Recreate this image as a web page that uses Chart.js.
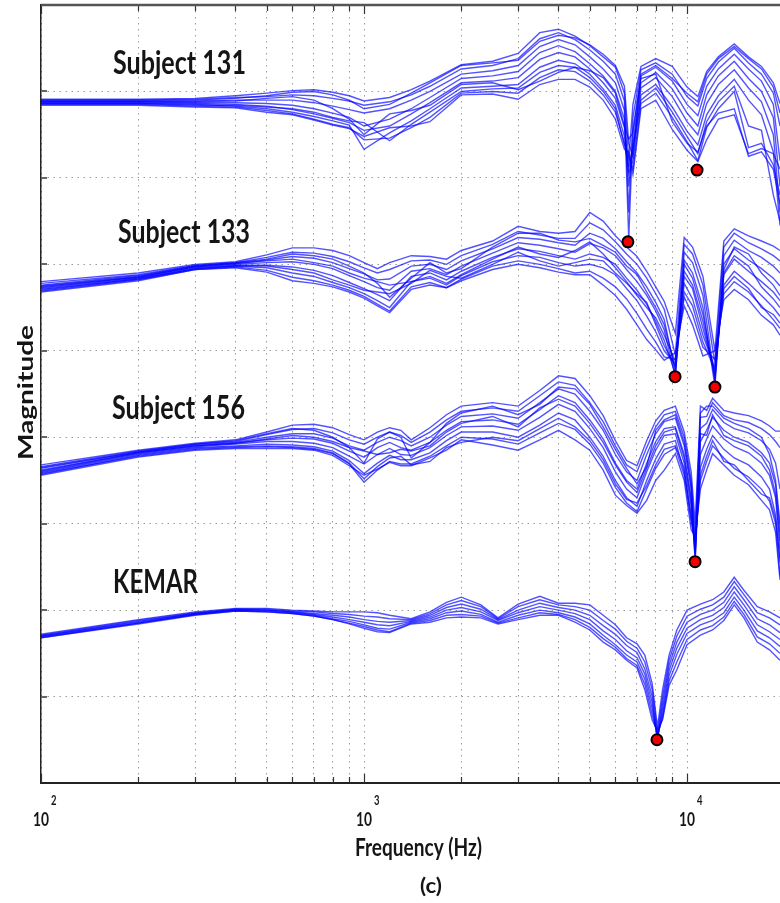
<!DOCTYPE html>
<html>
<head>
<meta charset="utf-8">
<script src="https://cdn.jsdelivr.net/npm/chart.js@4/dist/chart.umd.min.js"></script>
<style>
  html, body { margin: 0; padding: 0; background: #fff; }
  canvas { display: block; background: #fff; }
</style>
</head>
<body>
<canvas id="hrtf" width="780" height="903"></canvas>
<script>
// frequencies (Hz) for each subject's set of curves
const freq131 = [100, 200, 300, 400, 500, 600, 700, 800, 900, 1000, 1200, 1400, 1600, 2000, 2500, 3000, 3500, 4000, 4500, 5000, 5500, 6000, 6400, 6600, 6800, 7200, 8000, 9000, 10000, 10800, 11500, 12500, 14000, 15500, 17000, 18500, 19400];
const freq133 = [100, 200, 300, 400, 500, 600, 700, 800, 900, 1000, 1100, 1200, 1400, 1600, 1800, 2000, 2500, 3000, 3500, 4000, 4500, 5000, 5500, 6000, 6500, 7000, 7500, 8000, 8500, 9200, 9800, 10400, 11200, 12200, 13000, 14000, 15500, 17000, 18500, 19400];
const freq156 = [100, 200, 300, 400, 500, 600, 700, 800, 900, 1000, 1100, 1200, 1300, 1400, 1600, 1800, 2000, 2500, 3000, 3500, 4000, 4500, 5000, 5500, 6000, 6500, 7000, 7500, 8000, 8500, 9200, 9800, 10300, 10600, 11000, 11500, 12000, 13000, 14000, 15500, 17000, 18000, 18800, 19400];
const freqKemar = [100, 200, 300, 400, 500, 600, 700, 800, 900, 1000, 1100, 1200, 1400, 1600, 1800, 2000, 2300, 2600, 3000, 3500, 4000, 4500, 5000, 5500, 6000, 6500, 7000, 7400, 7800, 8100, 8400, 8800, 9300, 10000, 11000, 12000, 13000, 14000, 15000, 16500, 18000, 19400];

// magnitude (dB, stacked with offsets as in the figure), one row per elevation
const subject131 = [
  [79.1, 79.1, 79.2, 79.5, 79.8, 80.1, 80.2, 79.9, 79.5, 78.9, 79.3, 80.2, 81.2, 83.1, 83.5, 84.4, 86.8, 87.2, 86.4, 85.3, 84.0, 82.8, 79.8, 72.0, 78.5, 82.9, 83.8, 82.9, 80.5, 79.4, 82.3, 84.0, 85.5, 84.0, 82.9, 81.0, 78.6],
  [79.0, 79.0, 79.1, 79.3, 79.4, 79.6, 79.5, 79.2, 78.9, 78.4, 78.8, 79.6, 80.6, 82.6, 83.0, 83.8, 86.1, 86.8, 86.0, 84.8, 83.5, 82.0, 78.9, 66.0, 77.0, 82.5, 83.3, 82.0, 79.4, 78.3, 81.5, 83.4, 85.0, 83.3, 82.0, 79.8, 76.0],
  [78.9, 78.9, 78.9, 79.0, 79.0, 79.0, 78.7, 78.3, 77.9, 77.5, 78.0, 79.0, 80.0, 82.0, 82.4, 83.0, 85.2, 86.0, 85.4, 84.0, 82.6, 81.0, 77.8, 63.0, 75.5, 81.8, 82.8, 81.2, 78.5, 77.2, 80.6, 82.6, 84.3, 82.6, 81.2, 78.5, 72.0],
  [78.8, 78.8, 78.7, 78.7, 78.6, 78.4, 78.0, 77.5, 77.0, 76.0, 76.8, 78.0, 79.3, 81.5, 81.8, 82.3, 84.5, 85.3, 84.6, 83.2, 81.8, 80.0, 76.8, 69.0, 74.0, 81.0, 82.2, 80.3, 77.5, 76.0, 79.6, 81.8, 83.5, 81.5, 80.0, 77.0, 69.0],
  [78.7, 78.7, 78.6, 78.5, 78.3, 77.9, 77.4, 76.9, 76.4, 75.5, 76.0, 77.4, 78.7, 81.0, 81.2, 81.6, 83.7, 84.5, 84.0, 82.6, 81.0, 79.2, 75.8, 71.0, 73.0, 80.4, 81.6, 79.4, 76.5, 75.0, 78.6, 80.8, 82.5, 80.4, 78.8, 75.0, 66.0],
  [78.6, 78.6, 78.5, 78.3, 78.0, 77.6, 77.1, 76.6, 76.1, 73.3, 75.2, 76.6, 78.0, 80.4, 80.6, 80.8, 82.8, 83.6, 83.2, 82.0, 80.3, 78.4, 74.8, 70.5, 72.0, 79.6, 80.8, 78.2, 75.4, 73.8, 77.3, 79.5, 81.4, 79.0, 77.3, 73.0, 64.5],
  [78.5, 78.5, 78.3, 78.2, 77.8, 77.4, 76.8, 76.2, 75.8, 74.4, 74.6, 75.8, 77.0, 79.8, 80.0, 79.8, 81.6, 82.5, 82.3, 81.2, 79.6, 77.6, 74.0, 72.5, 71.0, 78.6, 79.8, 77.0, 74.2, 72.0, 75.8, 78.0, 80.0, 73.5, 74.0, 71.5, 68.0],
  [78.4, 78.4, 78.2, 78.1, 77.6, 77.3, 76.7, 76.1, 75.7, 74.8, 75.8, 76.0, 76.5, 79.6, 79.7, 79.1, 80.8, 81.4, 81.4, 80.5, 79.0, 76.8, 73.3, 73.0, 70.4, 78.0, 79.0, 75.6, 73.2, 71.9, 74.4, 76.8, 77.3, 72.8, 73.4, 72.8, 71.0],
  [78.8, 78.8, 78.8, 78.9, 79.2, 79.4, 79.0, 78.0, 76.8, 75.0, 77.4, 77.8, 78.4, 80.8, 81.0, 80.2, 81.2, 82.2, 82.8, 82.4, 81.6, 79.8, 76.0, 74.5, 75.2, 81.5, 82.0, 76.5, 74.0, 73.0, 76.0, 77.5, 78.0, 72.5, 73.0, 71.0, 67.0],
  [79.0, 79.0, 79.0, 79.2, 79.5, 79.9, 80.0, 79.6, 79.0, 78.0, 78.5, 79.8, 81.0, 83.0, 83.3, 83.6, 85.8, 86.5, 86.2, 85.4, 84.3, 83.0, 80.6, 74.0, 72.5, 82.0, 83.0, 81.5, 79.8, 78.8, 82.0, 83.8, 85.2, 83.8, 82.6, 80.5, 77.5],
  [78.6, 78.6, 78.4, 78.4, 78.2, 78.0, 77.6, 77.0, 76.6, 76.4, 74.3, 76.2, 77.6, 80.0, 80.3, 80.4, 82.2, 83.0, 82.8, 81.6, 80.0, 78.0, 73.8, 71.5, 73.5, 79.0, 80.4, 77.6, 74.8, 72.8, 76.5, 78.8, 80.6, 76.0, 75.5, 68.0, 65.0]
];
const subject133 = [
  [58.0, 59.0, 60.0, 60.3, 61.1, 61.9, 61.9, 61.6, 61.0, 60.2, 59.5, 60.2, 61.0, 60.9, 60.6, 61.6, 62.7, 64.4, 63.8, 63.6, 63.8, 66.0, 65.0, 63.3, 62.0, 60.9, 59.2, 57.4, 55.7, 52.0, 63.1, 62.0, 58.6, 50.0, 62.7, 64.1, 63.3, 62.7, 62.1, 61.6],
  [57.8, 58.8, 59.9, 60.2, 60.8, 61.4, 61.3, 60.9, 60.3, 59.6, 59.0, 59.4, 60.4, 60.5, 60.0, 61.0, 62.3, 63.8, 63.4, 63.0, 63.0, 64.8, 64.0, 62.6, 61.2, 60.0, 58.4, 56.6, 54.8, 49.5, 62.3, 61.2, 57.6, 48.5, 62.0, 63.6, 62.5, 61.8, 61.0, 60.4],
  [57.6, 58.7, 59.8, 60.1, 60.5, 60.9, 60.7, 60.2, 59.5, 58.9, 58.2, 58.3, 59.8, 60.0, 59.4, 60.4, 61.8, 63.1, 62.9, 62.5, 62.2, 63.6, 63.0, 61.8, 60.3, 59.0, 57.4, 55.6, 53.6, 47.5, 61.4, 60.2, 56.4, 46.5, 61.0, 62.8, 61.6, 60.8, 59.8, 59.0],
  [57.4, 58.5, 59.7, 60.0, 60.2, 60.3, 60.0, 59.5, 58.7, 58.0, 57.3, 57.0, 59.2, 59.5, 58.8, 59.8, 61.3, 62.5, 62.2, 61.8, 61.4, 62.4, 61.9, 61.0, 59.4, 58.0, 56.4, 54.6, 52.4, 47.0, 60.5, 59.0, 55.0, 45.9, 60.0, 61.8, 60.5, 59.5, 58.4, 57.5],
  [57.2, 58.4, 59.6, 59.9, 59.9, 59.7, 59.3, 58.7, 57.9, 57.2, 56.5, 55.8, 58.6, 59.0, 58.2, 59.2, 60.8, 61.8, 61.5, 61.0, 60.6, 61.2, 60.8, 60.0, 58.4, 57.0, 55.4, 53.4, 51.2, 47.3, 59.2, 57.6, 53.4, 47.0, 58.8, 60.6, 59.2, 58.0, 56.8, 55.8],
  [57.0, 58.3, 59.5, 59.8, 59.6, 59.0, 58.6, 57.9, 57.3, 56.6, 55.8, 55.0, 58.0, 58.4, 57.6, 58.7, 60.3, 61.0, 60.8, 60.2, 59.8, 60.0, 59.6, 58.8, 57.2, 55.8, 54.0, 52.2, 50.0, 48.5, 57.8, 56.0, 51.8, 48.0, 57.6, 59.2, 57.8, 56.4, 55.0, 54.0],
  [56.9, 58.2, 59.4, 59.7, 59.3, 58.5, 58.1, 57.6, 57.0, 56.3, 55.4, 54.6, 57.4, 57.9, 57.3, 58.3, 59.8, 60.4, 60.0, 59.5, 59.0, 59.2, 58.4, 57.4, 56.0, 54.3, 52.5, 51.0, 49.3, 49.0, 56.2, 54.2, 50.4, 49.0, 56.6, 58.0, 56.8, 55.2, 53.6, 52.6],
  [56.8, 58.1, 59.4, 59.6, 59.1, 58.1, 57.8, 57.4, 56.8, 56.1, 55.2, 54.4, 57.1, 57.6, 57.3, 58.1, 59.4, 60.0, 59.6, 59.1, 58.8, 58.8, 57.6, 56.4, 54.8, 53.0, 51.3, 50.1, 48.9, 49.8, 55.2, 53.0, 49.4, 50.0, 55.9, 57.1, 55.9, 54.1, 53.0, 51.8],
  [57.5, 58.6, 59.8, 60.2, 60.6, 61.2, 61.0, 60.6, 59.8, 59.0, 57.8, 56.2, 58.4, 60.2, 59.0, 59.5, 62.0, 63.6, 63.6, 62.8, 62.6, 63.0, 62.2, 61.4, 59.8, 58.8, 56.8, 55.0, 53.0, 48.0, 60.0, 58.4, 54.2, 46.8, 59.4, 62.0, 61.2, 59.0, 57.6, 56.4],
  [57.3, 58.5, 59.7, 60.1, 60.4, 60.6, 60.2, 59.8, 59.0, 58.4, 58.0, 57.6, 58.0, 58.6, 57.8, 58.8, 60.6, 62.0, 61.2, 60.8, 61.6, 62.6, 61.2, 59.6, 58.0, 56.4, 55.0, 53.8, 51.8, 48.8, 58.6, 57.2, 52.6, 47.5, 59.0, 61.0, 59.8, 57.4, 56.0, 55.0],
  [57.1, 58.3, 59.5, 59.8, 59.8, 59.4, 59.0, 58.2, 57.6, 57.0, 56.8, 56.6, 57.8, 59.3, 58.6, 58.4, 60.0, 61.4, 60.4, 59.8, 60.2, 60.6, 60.4, 59.0, 57.8, 56.6, 55.6, 53.0, 50.6, 48.2, 56.8, 55.2, 51.0, 47.8, 57.2, 58.6, 57.2, 55.0, 54.2, 53.2]
];
const subject156 = [
  [36.8, 38.5, 39.3, 39.7, 40.6, 41.4, 41.5, 41.1, 40.3, 39.7, 40.6, 41.1, 40.8, 39.7, 41.1, 42.6, 43.6, 44.0, 43.6, 45.4, 47.1, 46.8, 44.8, 42.5, 39.6, 37.3, 36.7, 39.6, 41.9, 43.1, 43.6, 40.6, 36.0, 30.0, 43.6, 43.1, 44.5, 43.1, 42.8, 42.5, 41.9, 41.3, 40.7, 40.7],
  [36.6, 38.4, 39.2, 39.5, 40.3, 40.9, 41.0, 40.5, 39.7, 39.2, 40.0, 40.6, 40.2, 39.4, 40.6, 42.0, 43.0, 43.4, 43.0, 44.8, 46.4, 46.0, 44.0, 41.8, 39.0, 36.8, 36.0, 38.8, 41.2, 42.6, 43.0, 40.0, 35.0, 28.5, 42.3, 42.4, 44.0, 42.5, 42.0, 41.7, 41.0, 40.3, 39.5, 38.8],
  [36.4, 38.3, 39.1, 39.4, 40.0, 40.4, 40.4, 39.9, 39.0, 38.5, 39.4, 40.0, 39.6, 39.0, 40.0, 41.4, 42.4, 42.7, 42.2, 44.0, 45.6, 45.0, 43.0, 40.8, 38.0, 36.0, 35.0, 38.0, 40.4, 41.8, 42.2, 39.0, 34.0, 26.5, 41.0, 41.6, 43.2, 41.7, 41.0, 40.5, 39.6, 38.6, 37.0, 34.0],
  [36.2, 38.2, 39.0, 39.3, 39.7, 39.9, 39.8, 39.3, 38.4, 37.7, 38.8, 39.4, 38.8, 38.5, 39.4, 40.8, 41.8, 42.0, 41.5, 43.2, 44.8, 44.0, 42.0, 39.8, 37.0, 35.0, 34.0, 37.0, 39.5, 41.0, 41.2, 38.0, 33.0, 25.7, 39.5, 40.8, 42.3, 40.8, 40.0, 39.4, 38.2, 37.0, 34.5, 29.0],
  [36.0, 38.1, 38.9, 39.2, 39.5, 39.5, 39.3, 38.8, 37.8, 36.9, 38.0, 38.7, 38.0, 37.9, 38.8, 40.2, 41.2, 41.3, 40.8, 42.3, 43.8, 43.0, 41.0, 38.8, 36.0, 34.0, 33.0, 36.0, 38.5, 40.2, 40.4, 37.0, 32.0, 26.8, 38.0, 39.8, 41.3, 39.8, 38.9, 38.2, 37.0, 35.6, 33.0, 27.0],
  [35.9, 38.0, 38.8, 39.0, 39.2, 39.1, 38.9, 38.4, 37.3, 35.8, 37.0, 37.9, 37.4, 37.4, 38.2, 39.6, 40.6, 40.6, 40.0, 41.4, 42.8, 42.0, 40.0, 37.8, 35.0, 33.0, 32.0, 35.0, 37.5, 39.2, 39.6, 36.0, 31.0, 27.5, 36.5, 38.6, 40.2, 38.6, 37.6, 36.8, 35.4, 34.0, 31.0, 25.5],
  [35.8, 37.8, 38.6, 38.8, 38.9, 38.8, 38.6, 38.1, 36.9, 34.8, 36.2, 37.2, 36.9, 36.9, 37.8, 39.0, 40.0, 39.8, 39.2, 40.5, 41.6, 40.9, 39.2, 37.0, 34.2, 32.4, 31.4, 34.0, 36.4, 38.0, 38.8, 35.6, 30.2, 28.0, 35.0, 37.2, 39.0, 37.6, 36.4, 35.4, 34.0, 32.6, 30.0, 24.0],
  [35.6, 37.7, 38.5, 38.7, 38.7, 38.7, 38.5, 37.9, 36.7, 35.6, 36.3, 37.1, 36.7, 36.7, 37.6, 38.5, 39.7, 39.1, 38.5, 39.7, 40.8, 39.7, 38.5, 36.2, 33.3, 32.1, 31.2, 32.7, 35.0, 36.2, 38.1, 35.0, 29.3, 28.5, 34.0, 36.2, 38.1, 36.8, 35.6, 34.5, 32.7, 31.6, 29.0, 23.5],
  [36.5, 38.3, 39.2, 39.6, 40.4, 41.0, 40.8, 40.0, 38.8, 37.0, 39.8, 40.6, 40.0, 37.6, 39.4, 41.6, 42.8, 43.6, 42.6, 43.8, 45.8, 45.6, 43.8, 41.2, 38.6, 36.4, 34.6, 36.6, 40.8, 42.0, 42.6, 39.4, 34.4, 27.0, 42.8, 43.6, 43.6, 42.2, 41.6, 41.0, 40.0, 38.0, 35.0, 30.0],
  [36.1, 38.2, 39.0, 39.3, 39.8, 40.2, 40.0, 39.5, 38.8, 38.4, 38.0, 38.2, 38.6, 38.4, 39.0, 40.6, 41.6, 42.4, 41.2, 43.4, 44.4, 43.6, 41.6, 39.4, 36.8, 34.8, 33.6, 36.4, 39.0, 40.6, 41.0, 37.6, 32.6, 26.0, 40.4, 40.2, 42.6, 40.2, 39.6, 39.0, 37.8, 36.2, 33.5, 28.0],
  [35.7, 37.9, 38.7, 38.9, 39.0, 38.9, 38.7, 38.2, 37.0, 35.2, 36.6, 37.6, 37.8, 36.8, 37.2, 38.8, 39.4, 40.0, 39.6, 41.0, 42.2, 41.2, 39.6, 37.4, 34.6, 32.8, 32.4, 34.4, 36.8, 38.6, 39.0, 36.4, 30.6, 27.8, 35.6, 37.8, 39.6, 37.2, 36.8, 35.0, 33.4, 33.0, 30.5, 26.0]
];
const kemar = [
  [17.2, 18.9, 19.8, 20.2, 20.2, 20.0, 19.9, 19.8, 19.8, 19.8, 19.7, 19.4, 19.0, 19.8, 20.9, 21.5, 20.6, 19.1, 20.7, 21.6, 20.8, 20.8, 20.6, 19.4, 18.3, 16.8, 16.1, 14.8, 11.5, 6.5, 10.8, 14.8, 17.7, 20.0, 20.7, 21.2, 22.1, 23.8, 22.3, 20.4, 19.8, 19.1],
  [17.1, 18.8, 19.7, 20.1, 20.1, 19.9, 19.8, 19.6, 19.5, 19.3, 19.2, 19.0, 18.9, 19.6, 20.6, 21.1, 20.4, 19.0, 20.4, 21.2, 20.6, 20.4, 20.0, 18.8, 17.8, 16.4, 15.6, 14.0, 10.8, 5.8, 10.0, 14.2, 17.0, 19.3, 20.1, 20.6, 21.5, 23.3, 21.8, 19.7, 19.1, 18.3],
  [17.0, 18.7, 19.6, 20.1, 20.0, 19.8, 19.6, 19.4, 19.2, 18.9, 18.7, 18.6, 18.8, 19.4, 20.3, 20.7, 20.1, 18.9, 20.0, 20.8, 20.3, 20.0, 19.4, 18.2, 17.2, 15.9, 15.1, 13.2, 10.0, 5.2, 9.3, 13.6, 16.3, 18.6, 19.5, 20.0, 20.9, 22.7, 21.2, 19.0, 18.3, 17.4],
  [17.0, 18.6, 19.6, 20.0, 20.0, 19.8, 19.5, 19.2, 18.9, 18.6, 18.3, 18.2, 18.7, 19.2, 20.0, 20.3, 19.8, 18.8, 19.7, 20.4, 20.0, 19.6, 18.9, 17.6, 16.6, 15.3, 14.5, 12.6, 9.3, 5.0, 8.6, 13.0, 15.6, 17.9, 18.9, 19.4, 20.3, 22.1, 20.6, 18.3, 17.5, 16.6],
  [16.9, 18.5, 19.5, 20.0, 19.9, 19.7, 19.4, 19.0, 18.7, 18.3, 17.9, 17.8, 18.6, 19.0, 19.7, 19.9, 19.5, 18.6, 19.4, 20.0, 19.7, 19.2, 18.4, 17.1, 16.0, 14.8, 14.0, 12.0, 8.6, 5.3, 8.0, 12.4, 14.9, 17.3, 18.3, 18.8, 19.7, 21.5, 20.0, 17.6, 16.8, 15.8],
  [16.8, 18.5, 19.5, 19.9, 19.8, 19.6, 19.3, 18.9, 18.5, 18.1, 17.7, 17.5, 18.5, 18.8, 19.4, 19.5, 19.3, 18.5, 19.1, 19.7, 19.5, 18.9, 18.0, 16.7, 15.7, 14.4, 13.6, 11.4, 7.9, 5.6, 7.5, 11.8, 14.0, 16.6, 17.7, 18.2, 19.2, 21.0, 19.5, 16.9, 16.1, 15.0],
  [16.8, 18.4, 19.4, 19.9, 19.8, 19.6, 19.3, 18.9, 18.4, 17.9, 17.5, 17.4, 18.4, 18.6, 19.1, 19.2, 19.1, 18.4, 18.9, 19.4, 19.4, 18.6, 17.7, 16.3, 15.4, 14.2, 13.3, 10.8, 7.3, 6.0, 7.3, 11.3, 13.1, 16.0, 17.1, 17.7, 18.8, 20.6, 19.1, 16.3, 15.4, 14.2]
];

// marked notches (red dots)
const notchFreq = [6560, 10740, 9180, 12200, 10590, 8070];
const notchMag = [62.6, 70.9, 47.0, 45.8, 25.6, 5.0];

const groupNames = ['Subject 131', 'Subject 133', 'Subject 156', 'KEMAR'];
const xTicks = [100, 200, 300, 400, 500, 600, 700, 800, 900, 1000, 2000, 3000, 4000, 5000, 6000, 7000, 8000, 9000, 10000];
const majorTicks = [100, 1000, 10000];
const yTicks = [10, 20, 30, 40, 50, 60, 70, 80];

const lineColor = 'rgba(0, 0, 255, 0.68)';
const datasets = [];

datasets.push({
  type: 'scatter',
  data: notchFreq.map((f, i) => ({ x: f, y: notchMag[i] })),
  pointRadius: 5.5,
  pointBackgroundColor: '#f20000',
  pointBorderColor: '#000',
  pointBorderWidth: 2,
  showLine: false,
  order: -1
});

function addGroup(freqs, curves) {
  curves.forEach(c => {
    datasets.push({
      data: freqs.map((f, i) => ({ x: f, y: c[i] })),
      borderColor: lineColor,
      borderWidth: 1.4,
      pointRadius: 0,
      tension: 0,
      fill: false
    });
  });
}
addGroup(freq131, subject131);
addGroup(freq133, subject133);
addGroup(freq156, subject156);
addGroup(freqKemar, kemar);

function fitText(ctx, text, x, y, w, size, rotate) {
  ctx.font = 'bold ' + size + 'px Lato';
  const m = ctx.measureText(text).width;
  ctx.save();
  ctx.translate(x, y);
  if (rotate) ctx.rotate(-Math.PI / 2);
  ctx.scale(w / m, 1);
  ctx.fillText(text, 0, 0);
  ctx.restore();
}

const framePlugin = {
  id: 'frame',
  afterDraw(chart) {
    const { ctx, chartArea: a, scales: { x, y } } = chart;
    ctx.save();
    // inward tick marks
    ctx.strokeStyle = '#333';
    ctx.lineWidth = 1.2;
    xTicks.forEach(v => {
      const px = Math.round(x.getPixelForValue(v)) + 0.5;
      const len = majorTicks.includes(v) ? 9 : 6;
      ctx.beginPath();
      ctx.moveTo(px, a.bottom); ctx.lineTo(px, a.bottom - len);
      ctx.moveTo(px, a.top); ctx.lineTo(px, a.top + len);
      ctx.stroke();
    });
    ctx.strokeStyle = '#666';
    ctx.lineWidth = 2;
    yTicks.forEach(v => {
      const py = Math.round(y.getPixelForValue(v));
      ctx.beginPath();
      ctx.moveTo(a.left, py); ctx.lineTo(a.left + 6, py);
      ctx.stroke();
    });
    // top frame line
    ctx.strokeStyle = '#555';
    ctx.lineWidth = 2.5;
    ctx.beginPath();
    ctx.moveTo(a.left, a.top); ctx.lineTo(a.right, a.top);
    ctx.stroke();

    // text
    ctx.fillStyle = '#151515';
    ctx.textBaseline = 'alphabetic';
    ctx.textAlign = 'left';
    fitText(ctx, groupNames[0], 113, 74, 133, 33);
    fitText(ctx, groupNames[1], 118, 243, 132, 33);
    fitText(ctx, groupNames[2], 112, 419, 133, 33);
    fitText(ctx, groupNames[3], 113, 593, 85, 33);

    majorTicks.forEach((v, i) => {
      const px = x.getPixelForValue(v);
      fitText(ctx, '10', px - 8, 826, 16, 18);
      fitText(ctx, String(2 + i), px + 10, 805, 5.5, 13);
    });
    fitText(ctx, 'Frequency (Hz)', 355, 856, 127, 24);
    fitText(ctx, '(c)', 420, 893, 22, 21);
    fitText(ctx, 'Magnitude', 33, 460, 135, 20, true);
    ctx.restore();
  }
};

new Chart(document.getElementById('hrtf'), {
  type: 'line',
  data: { datasets },
  options: {
    responsive: false,
    animation: false,
    layout: { autoPadding: false, padding: { left: 41, top: 5, right: 0, bottom: 120 } },
    plugins: { legend: { display: false }, tooltip: { enabled: false } },
    scales: {
      x: {
        type: 'logarithmic',
        min: 100,
        max: 19400,
        afterBuildTicks: s => { s.ticks = xTicks.map(v => ({ value: v })); },
        afterFit: s => { s.height = 0; },
        ticks: { display: false, autoSkip: false },
        grid: { color: '#9a9a9a', lineWidth: 1, drawTicks: false },
        border: { display: true, color: '#222', width: 2, dash: [1.5, 4.5] }
      },
      y: {
        min: 0,
        max: 90,
        ticks: { display: false, stepSize: 10 },
        afterFit: s => { s.width = 0; },
        grid: { color: '#9a9a9a', lineWidth: 1, drawTicks: false },
        border: { display: true, color: '#222', width: 1.5, dash: [1.5, 4.5] }
      }
    }
  },
  plugins: [framePlugin]
});
</script>
</body>
</html>
